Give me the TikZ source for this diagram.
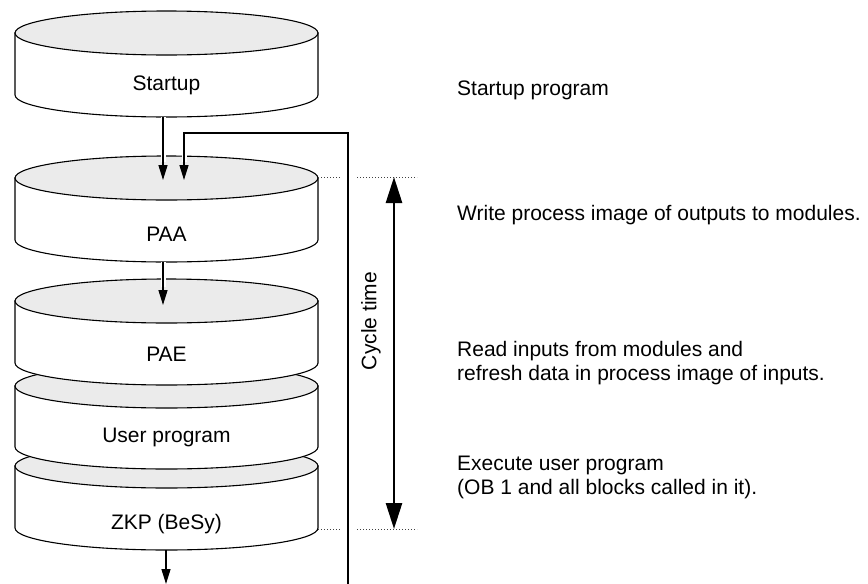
\documentclass[tikz,border=0pt]{standalone}
\usepackage{fontspec}
\setmainfont{Liberation Sans}
\usetikzlibrary{arrows.meta}
\definecolor{cylgray}{HTML}{EBEBEB}
\begin{document}
\begin{tikzpicture}[x=1pt,y=-1pt,
  outline/.style={draw=black, line width=1.1pt},
  lbl/.style={font=\fontsize{21}{24}\selectfont, inner sep=0pt},
  flow/.style={line width=1.4pt, -{Triangle[length=15pt,width=9pt]}},
  gap/.style={preaction={draw=white, line width=5pt, -, shorten >=18pt}},
  dots/.style={line width=1pt, dotted, draw=black!75},
  cyc/.style={line width=2.6pt, {Triangle[length=26pt,width=16pt]}-{Triangle[length=26pt,width=16pt]}},
]
\useasboundingbox (0,0) rectangle (868,584);
\newcommand\mycyl[2]{%
  \filldraw[outline, fill=white] (15,#1) -- (15,#2) arc[start angle=180, end angle=0, x radius=151.5, y radius=22] -- (318,#1) -- cycle;
  \filldraw[outline, fill=cylgray] (166.5,#1) ellipse[x radius=151.5, y radius=22];
}
% cylinders
\mycyl{33}{95}
\mycyl{178}{240}
\mycyl{466}{528}
\mycyl{386}{447}
\mycyl{301}{363}
\node[lbl] (startup) at (166.5,85) {Startup};
\node[lbl] (paa) at (166.5,234) {PAA};
\node[lbl] (pae) at (166.5,354) {PAE};
\node[lbl] (user) at (166.5,437) {User program};
\node[lbl] (zkp) at (166.5,524) {ZKP (BeSy)};
% dotted guides
\draw[dots] (318,177) -- (340,177) (357,177) -- (417,177);
\draw[dots] (318,529) -- (340,529) (357,529) -- (417,529);
% connectors
\coordinate (startupOut) at (163,117);
\coordinate (paaIn) at (163,180);
\coordinate (paaOut) at (163,262);
\coordinate (paeIn) at (163,305);
\coordinate (zkpOut) at (166,550);
\coordinate (exitEnd) at (166,584);
\coordinate (loopStart) at (348,584);
\coordinate (loopTurn) at (184,133);
\coordinate (paaIn2) at (184,180);
\draw[flow, gap] (startupOut) -- (paaIn);
\draw[flow, gap] (loopStart) |- (loopTurn) -- (paaIn2);
\draw[flow, gap] (paaOut) -- (paeIn);
\draw[flow] (zkpOut) -- (exitEnd);
% cycle time
\coordinate (cycTop) at (394,177);
\coordinate (cycBot) at (394,529);
\draw[cyc] (cycTop) -- (cycBot);
\node[lbl, rotate=90] (cycle) at (371,321) {Cycle time};
% descriptions
\node[lbl, anchor=west] (d1) at (457,90) {Startup program};
\node[lbl, anchor=west] (d2) at (457,215) {Write process image of outputs to modules.};
\node[lbl, anchor=west, align=left] (d3) at (457,363) {Read inputs from modules and\\refresh data in process image of inputs.};
\node[lbl, anchor=west, align=left] (d4) at (457,477) {Execute user program\\(OB 1 and all blocks called in it).};
\end{tikzpicture}
\end{document}
